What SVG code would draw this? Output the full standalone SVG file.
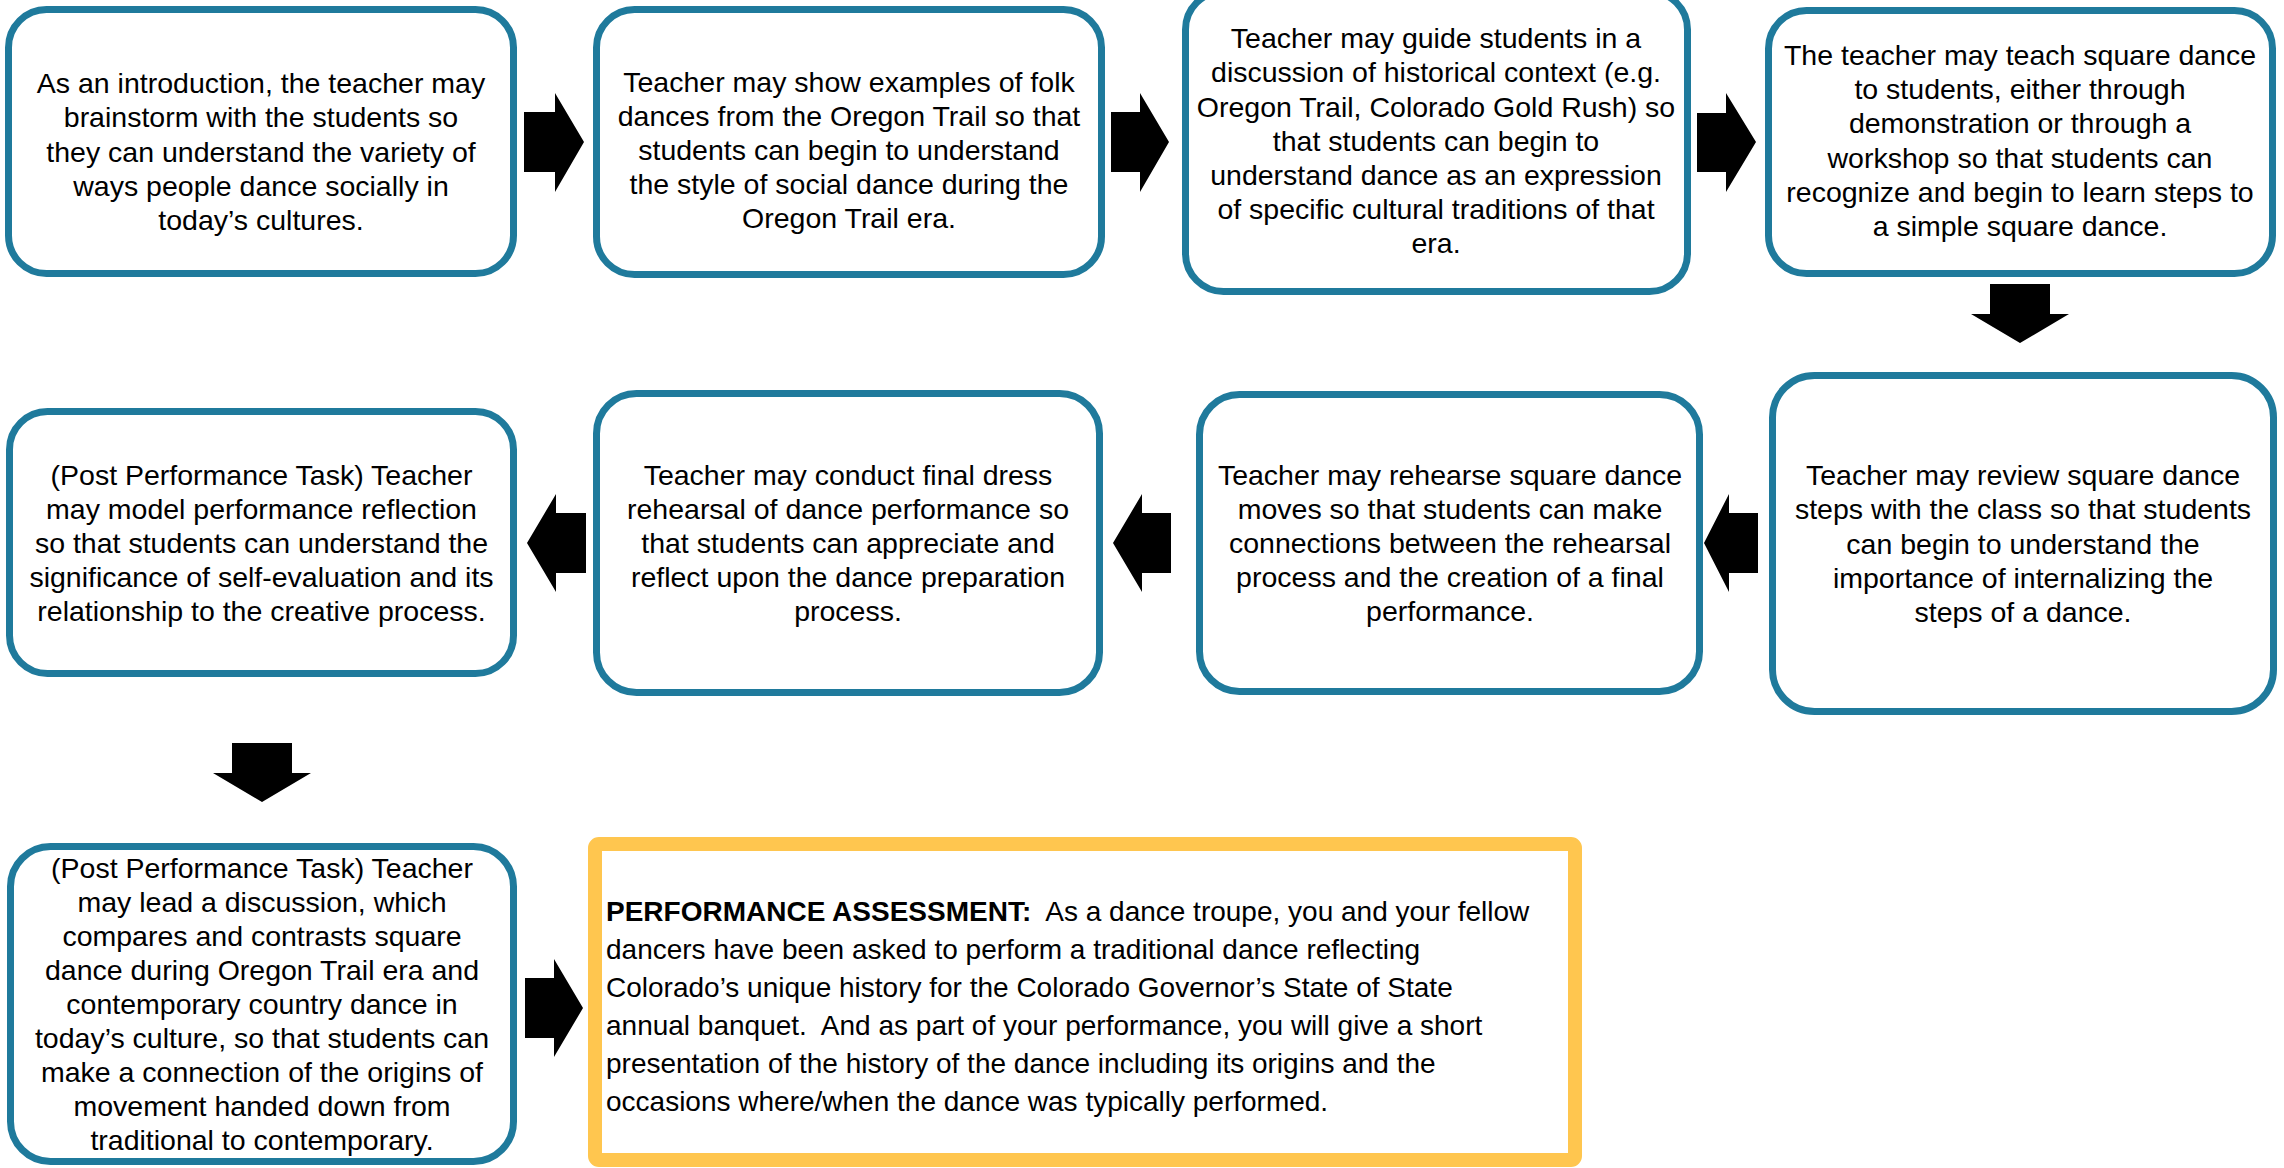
<svg xmlns="http://www.w3.org/2000/svg" width="2284" height="1168" viewBox="0 0 2284 1168">
<style>
.box{fill:#ffffff;stroke:#1F7A9C;stroke-width:7}
.perf{fill:#ffffff;stroke:#FFC64F;stroke-width:14}
.t{font-family:"Liberation Sans",Arial,sans-serif;font-size:28.5px;text-anchor:middle;fill:#000000}
.pt{font-family:"Liberation Sans",Arial,sans-serif;font-size:28px;fill:#000000}
.b{font-weight:bold}
.arrow{fill:#000000}
</style>
<rect x="0" y="0" width="2284" height="1168" fill="#ffffff"/>
<g id="connectors">
<polygon class="arrow" points="524,112 555,112 555,93 584,142 555,192 555,172 524,172"/>
<polygon class="arrow" points="1111,112 1140,112 1140,93 1169,142 1140,192 1140,172 1111,172"/>
<polygon class="arrow" points="1697,113 1726,113 1726,93 1756,142 1726,192 1726,172 1697,172"/>
<polygon class="arrow" points="1990,284 2050,284 2050,314 2069,314 2020,343 1971,314 1990,314"/>
<polygon class="arrow" points="1758,513 1729,513 1729,494 1704,543 1729,592 1729,573 1758,573"/>
<polygon class="arrow" points="1171,513 1142,513 1142,494 1113,543 1142,592 1142,573 1171,573"/>
<polygon class="arrow" points="586,513 556,513 556,494 527,543 556,592 556,573 586,573"/>
<polygon class="arrow" points="232,743 292,743 292,773 311,773 262,802 213,773 232,773"/>
<polygon class="arrow" points="525,978 554,978 554,959 583,1008 554,1057 554,1038 525,1038"/>
</g>
<g id="node1">
<rect class="box" x="8.5" y="9.5" width="505" height="264" rx="38"/>
<text class="t"><tspan x="261" y="93">As an introduction, the teacher may</tspan><tspan x="261" y="127">brainstorm with the students so</tspan><tspan x="261" y="162">they can understand the variety of</tspan><tspan x="261" y="196">ways people dance socially in</tspan><tspan x="261" y="230">today’s cultures.</tspan></text>
</g>
<g id="node2">
<rect class="box" x="596.5" y="9.5" width="505" height="265" rx="38"/>
<text class="t"><tspan x="849" y="92">Teacher may show examples of folk</tspan><tspan x="849" y="126">dances from the Oregon Trail so that</tspan><tspan x="849" y="160">students can begin to understand</tspan><tspan x="849" y="194">the style of social dance during the</tspan><tspan x="849" y="228">Oregon Trail era.</tspan></text>
</g>
<g id="node3">
<rect class="box" x="1185.5" y="-8.5" width="502" height="300" rx="38"/>
<text class="t"><tspan x="1436" y="48">Teacher may guide students in a</tspan><tspan x="1436" y="82">discussion of historical context (e.g.</tspan><tspan x="1436" y="117">Oregon Trail, Colorado Gold Rush) so</tspan><tspan x="1436" y="151">that students can begin to</tspan><tspan x="1436" y="185">understand dance as an expression</tspan><tspan x="1436" y="219">of specific cultural traditions of that</tspan><tspan x="1436" y="253">era.</tspan></text>
</g>
<g id="node4">
<rect class="box" x="1768.5" y="10.5" width="504" height="263" rx="38"/>
<text class="t"><tspan x="2020" y="65">The teacher may teach square dance</tspan><tspan x="2020" y="99">to students, either through</tspan><tspan x="2020" y="133">demonstration or through a</tspan><tspan x="2020" y="168">workshop so that students can</tspan><tspan x="2020" y="202">recognize and begin to learn steps to</tspan><tspan x="2020" y="236">a simple square dance.</tspan></text>
</g>
<g id="node5">
<rect class="box" x="1772.5" y="375.5" width="501" height="336" rx="42"/>
<text class="t"><tspan x="2023" y="485">Teacher may review square dance</tspan><tspan x="2023" y="519">steps with the class so that students</tspan><tspan x="2023" y="554">can begin to understand the</tspan><tspan x="2023" y="588">importance of internalizing the</tspan><tspan x="2023" y="622">steps of a dance.</tspan></text>
</g>
<g id="node6">
<rect class="box" x="1199.5" y="394.5" width="500" height="297" rx="40"/>
<text class="t"><tspan x="1450" y="485">Teacher may rehearse square dance</tspan><tspan x="1450" y="519">moves so that students can make</tspan><tspan x="1450" y="553">connections between the rehearsal</tspan><tspan x="1450" y="587">process and the creation of a final</tspan><tspan x="1450" y="621">performance.</tspan></text>
</g>
<g id="node7">
<rect class="box" x="596.5" y="393.5" width="503" height="299" rx="40"/>
<text class="t"><tspan x="848" y="485">Teacher may conduct final dress</tspan><tspan x="848" y="519">rehearsal of dance performance so</tspan><tspan x="848" y="553">that students can appreciate and</tspan><tspan x="848" y="587">reflect upon the dance preparation</tspan><tspan x="848" y="621">process.</tspan></text>
</g>
<g id="node8">
<rect class="box" x="9.5" y="411.5" width="504" height="262" rx="38"/>
<text class="t"><tspan x="261.5" y="485">(Post Performance Task) Teacher</tspan><tspan x="261.5" y="519">may model performance reflection</tspan><tspan x="261.5" y="553">so that students can understand the</tspan><tspan x="261.5" y="587">significance of self-evaluation and its</tspan><tspan x="261.5" y="621">relationship to the creative process.</tspan></text>
</g>
<g id="node9">
<rect class="box" x="10.5" y="846.5" width="503" height="315" rx="40"/>
<text class="t"><tspan x="262" y="878">(Post Performance Task) Teacher</tspan><tspan x="262" y="912">may lead a discussion, which</tspan><tspan x="262" y="946">compares and contrasts square</tspan><tspan x="262" y="980">dance during Oregon Trail era and</tspan><tspan x="262" y="1014">contemporary country dance in</tspan><tspan x="262" y="1048">today’s culture, so that students can</tspan><tspan x="262" y="1082">make a connection of the origins of</tspan><tspan x="262" y="1116">movement handed down from</tspan><tspan x="262" y="1150">traditional to contemporary.</tspan></text>
</g>
<g id="node10">
<rect class="perf" x="595" y="844" width="980" height="316" rx="4"/>
<text class="pt"><tspan x="606" y="921"><tspan class="b">PERFORMANCE ASSESSMENT:</tspan>&#160; As a dance troupe, you and your fellow</tspan><tspan x="606" y="959">dancers have been asked to perform a traditional dance reflecting</tspan><tspan x="606" y="997">Colorado’s unique history for the Colorado Governor’s State of State</tspan><tspan x="606" y="1035">annual banquet.&#160; And as part of your performance, you will give a short</tspan><tspan x="606" y="1073">presentation of the history of the dance including its origins and the</tspan><tspan x="606" y="1111">occasions where/when the dance was typically performed.</tspan></text>
</g>
</svg>
